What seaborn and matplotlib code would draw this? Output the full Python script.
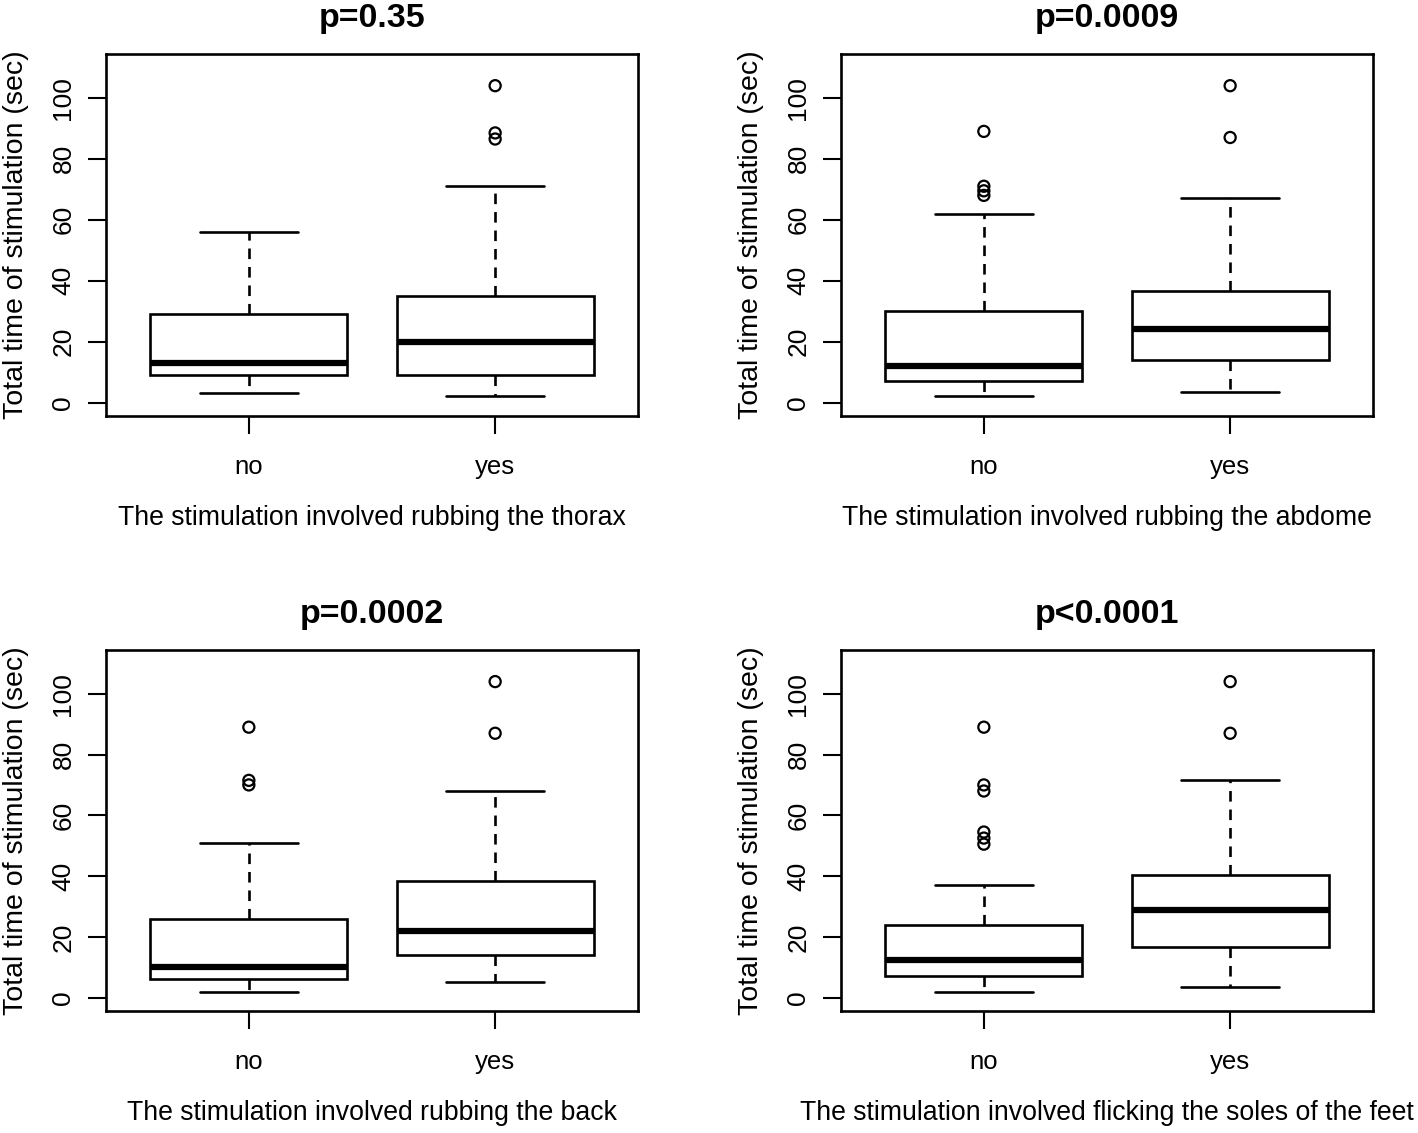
import numpy as np
import pandas as pd
import matplotlib
matplotlib.use("Agg")
import matplotlib.pyplot as plt
import seaborn as sns
from matplotlib import font_manager

# ---------------- data ----------------
groups = ["no", "yes"]
titles = ["p=0.35", "p=0.0009", "p=0.0002", "p<0.0001"]
xlabels = [
    "The stimulation involved rubbing the thorax",
    "The stimulation involved rubbing the abdome",
    "The stimulation involved rubbing the back",
    "The stimulation involved flicking the soles of the feet",
]
ylabel = "Total time of stimulation (sec)"
yticks = [0, 20, 40, 60, 80, 100]

# five-number summaries: lower whisker, Q1, median, Q3, upper whisker
thorax_no = [3, 9, 13, 29, 56]
thorax_yes = [2, 9, 20, 35, 71]
abdomen_no = [2, 7, 12, 30, 62]
abdomen_yes = [3.5, 14, 24, 36.5, 67]
back_no = [2, 6, 10, 26, 51]
back_yes = [5, 14, 22, 38.5, 68]
feet_no = [2, 7, 12.5, 24, 37]
feet_yes = [3.5, 16.5, 29, 40.5, 71.5]

# outliers
thorax_no_out = []
thorax_yes_out = [104, 88.5, 86.5]
abdomen_no_out = [89, 71, 69.5, 68]
abdomen_yes_out = [104, 87]
back_no_out = [89, 71.5, 70]
back_yes_out = [104, 87]
feet_no_out = [89, 70, 68, 54.5, 52.5, 50.5]
feet_yes_out = [104, 87]

panels = [
    (thorax_no, thorax_yes, thorax_no_out, thorax_yes_out),
    (abdomen_no, abdomen_yes, abdomen_no_out, abdomen_yes_out),
    (back_no, back_yes, back_no_out, back_yes_out),
    (feet_no, feet_yes, feet_no_out, feet_yes_out),
]

# ---------------- style ----------------
sns.set_theme(style="white")
names = {f.name for f in font_manager.fontManager.ttflist}
if "Liberation Sans Narrow" in names:
    FAM = "Liberation Sans Narrow"
    k = 1.19
else:
    FAM = "Liberation Sans"
    k = 1.0
plt.rcParams["font.family"] = [FAM, "DejaVu Sans"]

FS_TITLE = 24.5 * k
FS_XLAB = 19.2 * k
FS_YLAB = 20.5 * k
FS_XTICK = 18.5 * k
FS_YTICK = 19.0 * k

W, H = 1418, 1133
fig = plt.figure(figsize=(W / 100, H / 100), dpi=100)
fig.patch.set_facecolor("white")

# axes pixel boxes (left, right, top, bottom)
boxes = [
    (106, 638, 54, 416),
    (841, 1373, 54, 416),
    (106, 638, 650, 1011),
    (841, 1373, 650, 1011),
]

LW = 1.9
for i, (pan, (l, r, t, b)) in enumerate(zip(panels, boxes)):
    ax = fig.add_axes([l / W, 1 - b / H, (r - l) / W, (b - t) / H])
    no_s, yes_s, no_o, yes_o = pan
    df = pd.DataFrame({
        "group": ["no"] * len(no_s) + ["yes"] * len(yes_s),
        "value": list(no_s) + list(yes_s),
    })
    sns.boxplot(
        data=df, x="group", y="value", order=groups, ax=ax,
        whis=(0, 100), width=0.8, color="white", linecolor="black",
        linewidth=LW, showfliers=False,
        medianprops=dict(linewidth=4.5, color="black", solid_capstyle="butt"),
        whiskerprops=dict(linestyle=(0, (4, 3)), linewidth=LW, color="black"),
        capprops=dict(linewidth=LW, color="black"),
    )
    odf = pd.DataFrame({
        "group": ["no"] * len(no_o) + ["yes"] * len(yes_o),
        "value": list(no_o) + list(yes_o),
    })
    sns.stripplot(
        data=odf, x="group", y="value", order=groups, ax=ax,
        jitter=False, size=8.0, color="white", edgecolor="black",
        linewidth=1.6, zorder=5,
    )
    for coll in ax.collections:
        coll.set_facecolor("none")

    ax.set_xlim(-0.58, 1.58)
    ax.set_ylim(-4.4, 114.4)
    ax.set_yticks(yticks)
    ax.set_yticklabels([str(v) for v in yticks], rotation=90, va="center",
                       fontsize=FS_YTICK)
    ax.set_xticks([0, 1])
    ax.set_xticklabels(groups, fontsize=FS_XTICK)
    ax.tick_params(axis="both", direction="out", length=13, width=1.5,
                   color="black", labelcolor="black", bottom=True, left=True)
    ax.tick_params(axis="x", pad=15)
    ax.tick_params(axis="y", pad=9)
    for s in ax.spines.values():
        s.set_visible(True)
        s.set_color("black")
        s.set_linewidth(LW)

    ax.set_xlabel(xlabels[i], fontsize=FS_XLAB, color="black")
    ax.xaxis.set_label_coords(0.5, -102 / (b - t))
    ax.xaxis.label.set_va("center")
    ax.set_ylabel(ylabel, fontsize=FS_YLAB, color="black")
    ax.yaxis.set_label_coords(-(l - (16 if l < 500 else 751)) / (r - l), 0.5)
    ax.yaxis.label.set_va("center")
    ax.text(0.5, 1 + 36 / (b - t), titles[i], transform=ax.transAxes,
            ha="center", va="center", fontsize=FS_TITLE, fontweight="bold",
            color="black")
    ax.grid(False)

fig.savefig("out.png", dpi=100, facecolor="white")
